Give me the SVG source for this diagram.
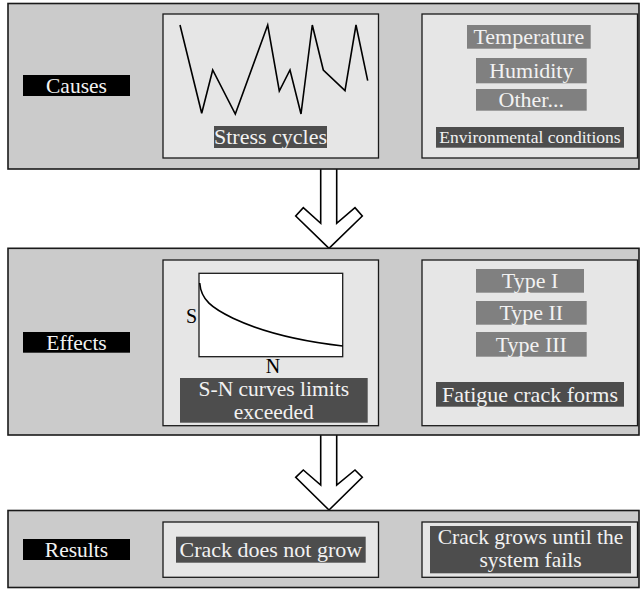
<svg xmlns="http://www.w3.org/2000/svg" width="640" height="589" viewBox="0 0 640 589">
  <style>
    .panel { fill: #cbcbcb; stroke: #1a1a1a; stroke-width: 1.6; }
    .box { fill: #e6e6e6; stroke: #1a1a1a; stroke-width: 1.3; }
    .chart { fill: #ffffff; stroke: #1a1a1a; stroke-width: 1.3; }
    .line { fill: none; stroke: #000000; stroke-width: 1.6; stroke-linejoin: miter; }
    .tag-black { fill: #000000; }
    .tag-mid { fill: #808080; }
    .tag-dark { fill: #4d4d4d; }
    .txt { font-family: "Liberation Serif", "DejaVu Serif", serif; font-size: 22px; fill: #f2f2f2; text-anchor: middle; }
    .txt-small { font-size: 17.5px; }
    .txt-two { font-size: 21.5px; }
    .axis { font-family: "Liberation Serif", "DejaVu Serif", serif; font-size: 20px; fill: #000000; text-anchor: middle; }
    .arrow { fill: #ffffff; stroke: #000000; stroke-width: 1.6; stroke-linejoin: miter; }
  </style>

  <rect width="640" height="589" fill="#ffffff"/>

  <!-- Block arrows between the rows -->
  <g id="connectors">
    <path class="arrow" d="M320.7,168 L320.7,223.3 L303.3,207.7 L295.7,216 L329,248.3 L362.3,216 L355,207.7 L336.7,223.3 L336.7,168"/>
    <path class="arrow" d="M320.7,434 L320.7,485 L303.3,470 L295.7,477.3 L329,510 L362.3,477.3 L355,470 L336.7,485 L336.7,434"/>
  </g>

  <!-- Row 1: causes -->
  <g id="causes">
    <rect class="panel" x="8" y="3.5" width="631" height="165.5"/>
    <rect class="tag-black" x="23" y="75" width="107" height="21"/>
    <text class="txt" x="76.5" y="92.5" style="font-size:21.5px">Causes</text>
  </g>

  <g id="stress-cycles">
    <rect class="box" x="163" y="14" width="215.5" height="144"/>
    <polyline class="line" points="180,25 201.7,113.3 212.7,70 235.3,114 267.7,25 279.3,91 290,70 301,114 312.3,25 323.3,70 345,90.7 356,25 367.7,80.7"/>
    <rect class="tag-dark" x="214" y="126" width="113" height="22"/>
    <text class="txt" x="270.5" y="144">Stress cycles</text>
  </g>

  <g id="environmental-conditions">
    <rect class="box" x="422" y="14" width="215.5" height="144"/>
    <rect class="tag-mid" x="467" y="25" width="123.7" height="23.7"/>
    <text class="txt" x="528.8" y="43.5">Temperature</text>
    <rect class="tag-mid" x="476" y="58" width="110.7" height="25.3"/>
    <text class="txt" x="531.3" y="77.5">Humidity</text>
    <rect class="tag-mid" x="476" y="89" width="110.7" height="21.7"/>
    <text class="txt" x="531.3" y="106.5">Other...</text>
    <rect class="tag-dark" x="436" y="127" width="188" height="20.7"/>
    <text class="txt txt-small" x="530" y="143">Environmental conditions</text>
  </g>

  <!-- Row 2: effects -->
  <g id="effects">
    <rect class="panel" x="8" y="248.3" width="631" height="186.7"/>
    <rect class="tag-black" x="23" y="332" width="107" height="20.7"/>
    <text class="txt" x="76.5" y="349.5" style="font-size:21.5px">Effects</text>
  </g>

  <g id="sn-curves">
    <rect class="box" x="163" y="260" width="215.5" height="165.7"/>
    <rect class="chart" x="199" y="273.3" width="143.7" height="83.4"/>
    <path class="line" d="M199.7,283 C201,300 212,308 233,318.3 C258,330 290,340 342.7,346"/>
    <text class="axis" x="191.5" y="323">S</text>
    <text class="axis" x="273" y="373">N</text>
    <rect class="tag-dark" x="180" y="378" width="187.7" height="44.7"/>
    <text class="txt txt-two" x="273.8" y="396">S-N curves limits</text>
    <text class="txt txt-two" x="273.8" y="418.5">exceeded</text>
  </g>

  <g id="fatigue-crack-forms">
    <rect class="box" x="422" y="260" width="215.5" height="165.7"/>
    <rect class="tag-mid" x="476" y="269" width="108" height="23.7"/>
    <text class="txt" x="530" y="288">Type I</text>
    <rect class="tag-mid" x="476" y="301" width="110.7" height="23.7"/>
    <text class="txt" x="531.3" y="320">Type II</text>
    <rect class="tag-mid" x="476" y="332" width="110.7" height="24.7"/>
    <text class="txt" x="531.3" y="351.5">Type III</text>
    <rect class="tag-dark" x="436" y="382" width="188" height="24.7"/>
    <text class="txt" x="530" y="401.5">Fatigue crack forms</text>
  </g>

  <!-- Row 3: results -->
  <g id="results">
    <rect class="panel" x="8" y="510.5" width="631" height="77"/>
    <rect class="tag-black" x="23" y="539" width="107" height="21"/>
    <text class="txt" x="76.5" y="556.5" style="font-size:21.5px">Results</text>
  </g>

  <g id="crack-does-not-grow">
    <rect class="box" x="163" y="522" width="215.5" height="55.3"/>
    <rect class="tag-dark" x="176" y="536.7" width="189.7" height="26"/>
    <text class="txt" x="270.8" y="557">Crack does not grow</text>
  </g>

  <g id="crack-grows">
    <rect class="box" x="422" y="522" width="215.5" height="55.3"/>
    <rect class="tag-dark" x="430" y="526" width="201" height="47.3"/>
    <text class="txt txt-two" x="530.5" y="544">Crack grows until the</text>
    <text class="txt txt-two" x="530.5" y="566.5">system fails</text>
  </g>
</svg>
